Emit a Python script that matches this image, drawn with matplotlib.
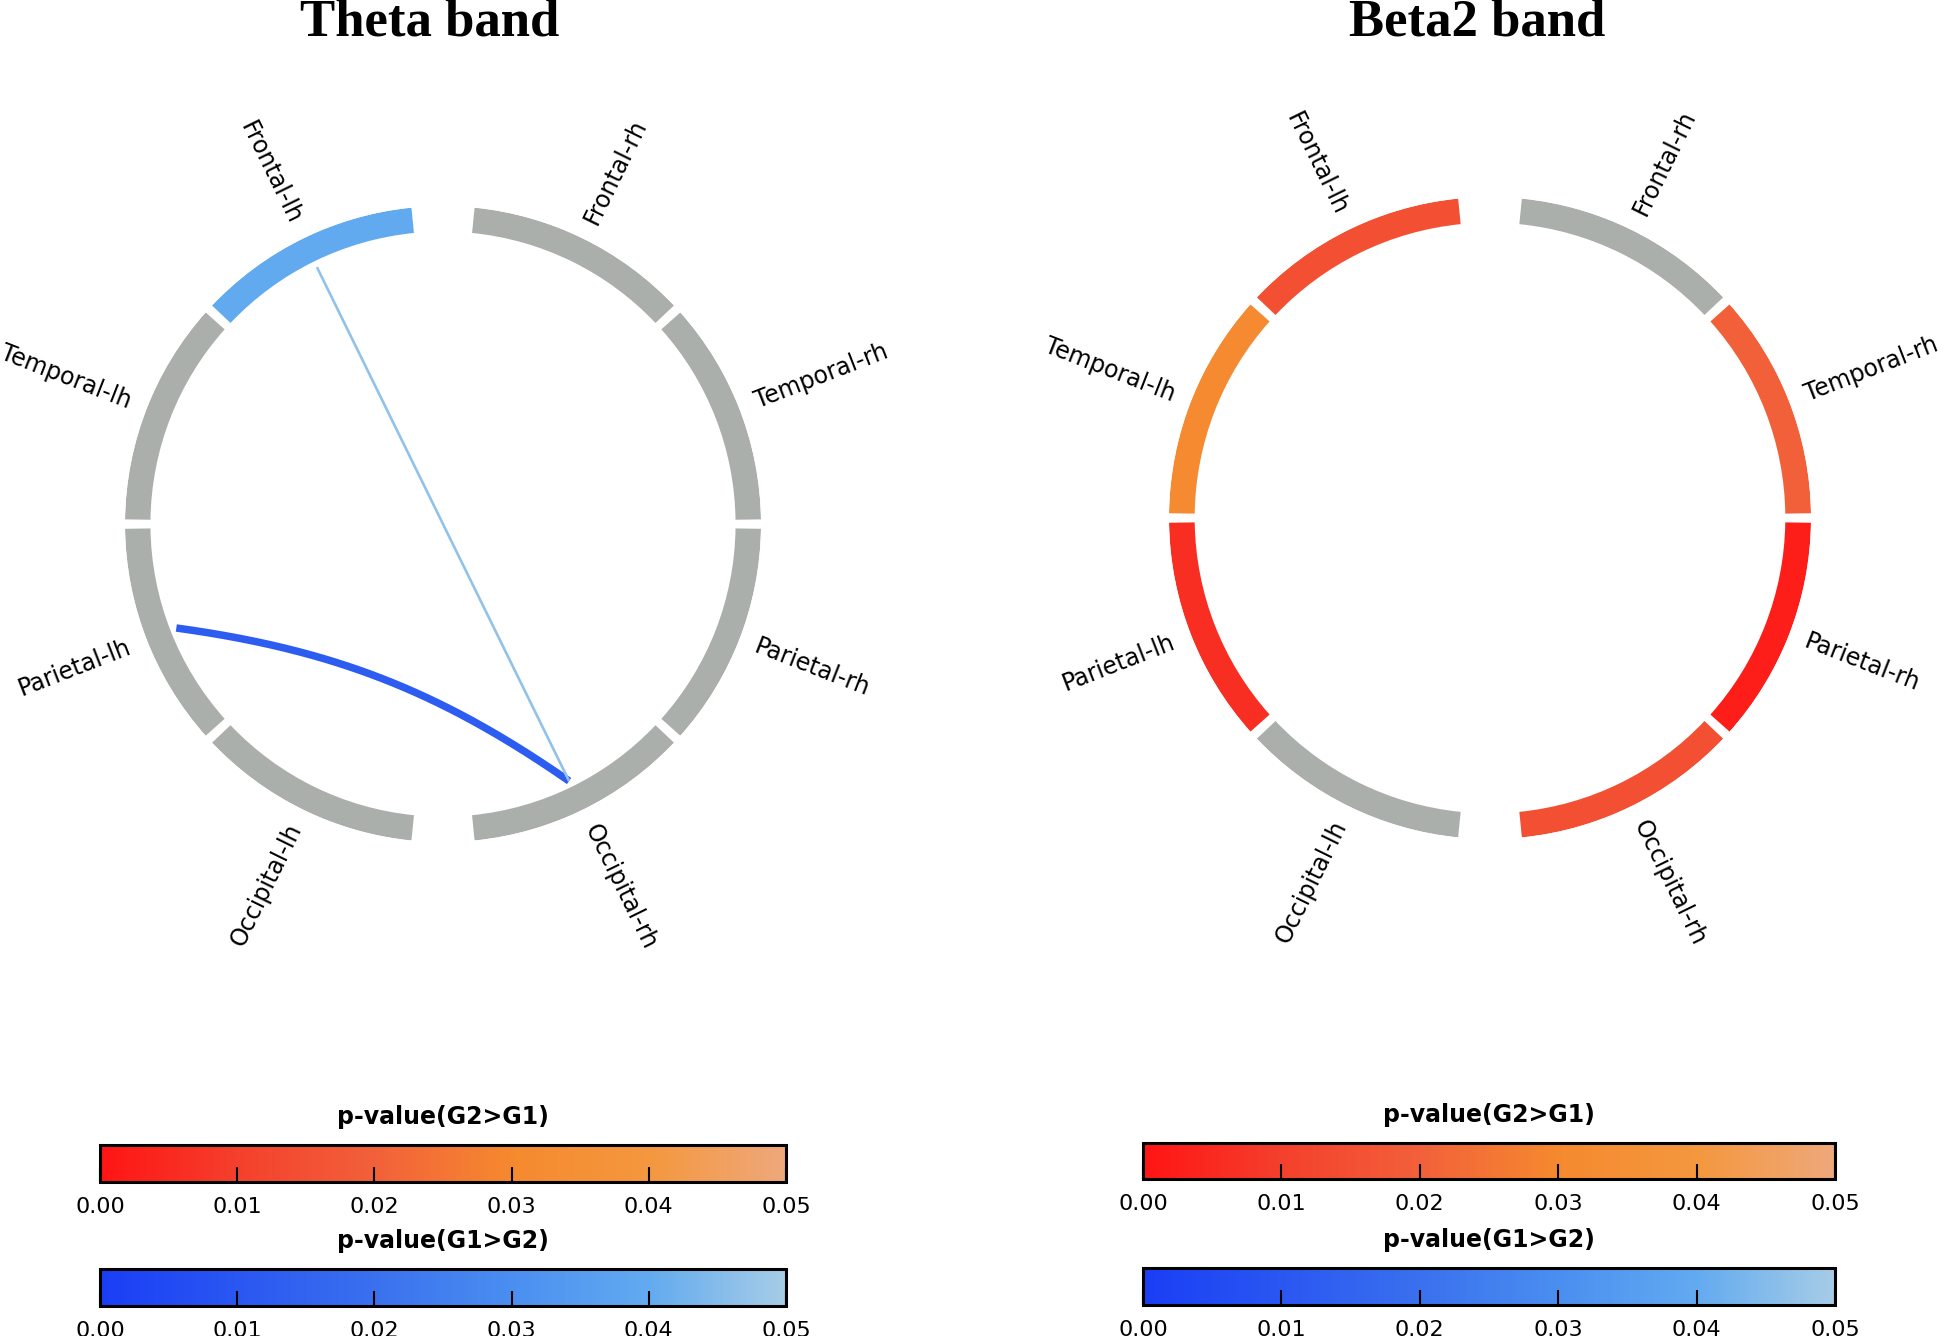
import numpy as np
import matplotlib
matplotlib.use('Agg')
import matplotlib.pyplot as plt
from matplotlib.colors import LinearSegmentedColormap, Normalize
from matplotlib.cm import ScalarMappable

# nodes, clockwise from the top-right
node_names = ['Frontal-rh', 'Temporal-rh', 'Parietal-rh', 'Occipital-rh',
              'Occipital-lh', 'Parietal-lh', 'Temporal-lh', 'Frontal-lh']

nan = np.nan
# node p-values (nan = not significant)
theta_red = [nan, nan, nan, nan, nan, nan, nan, nan]
theta_blue = [nan, nan, nan, nan, nan, nan, nan, 0.040]
beta2_red = [nan, 0.020, 0.002, 0.015, nan, 0.006, 0.031, 0.015]
beta2_blue = [nan, nan, nan, nan, nan, nan, nan, nan]

# connections (pairs of nodes) and their p-values
theta_edges = [('Parietal-lh', 'Occipital-rh'), ('Frontal-lh', 'Occipital-rh')]
theta_edge_blue = [0.012, 0.047]
beta2_edges = []
beta2_edge_blue = []

titles = ['Theta band', 'Beta2 band']
cbar_ticks = [0.00, 0.01, 0.02, 0.03, 0.04, 0.05]

red_cmap = LinearSegmentedColormap.from_list(
    'pred', [(0, '#ff1414'), (0.2, '#f4402c'), (0.4, '#f2603a'),
             (0.6, '#f5892e'), (0.8, '#f4973e'), (1.0, '#eea87a')])
blue_cmap = LinearSegmentedColormap.from_list(
    'pblue', [(0, '#1a3ef5'), (0.4, '#3a70ee'), (0.6, '#4a8ef0'),
              (0.8, '#62aaf0'), (1.0, '#a6cce6')])
norm = Normalize(0, 0.05)
grey = '#aaafac'

# node angles: big gap between hemispheres, small gaps between lobes
big_half_gap = 5.7
small_gap = 1.7
seg = (180 - 2 * big_half_gap - 3 * small_gap) / 4
right = [90 - big_half_gap - seg / 2 - k * (seg + small_gap) for k in range(4)]
left = [-180 - a for a in right[::-1]]
node_deg = np.array(right + left)
node_rad = np.deg2rad(node_deg)


def chord(t0, t1, r=9.0, pull=0.81, n=200):
    # cubic bezier between two ring points, bent toward the centre
    p0 = r * np.array([np.cos(t0), np.sin(t0)])
    p3 = r * np.array([np.cos(t1), np.sin(t1)])
    p1 = pull * (2 * p0 + p3) / 3
    p2 = pull * (p0 + 2 * p3) / 3
    t = np.linspace(0, 1, n)[:, None]
    pts = ((1 - t) ** 3 * p0 + 3 * (1 - t) ** 2 * t * p1
           + 3 * (1 - t) * t ** 2 * p2 + t ** 3 * p3)
    return np.arctan2(pts[:, 1], pts[:, 0]), np.hypot(pts[:, 0], pts[:, 1])


fig = plt.figure(figsize=(19.46, 13.36), dpi=100)

panels = [
    ([125 / 1946, 0.3697, 636 / 1946, 636 / 1336], theta_red, theta_blue, theta_edges, theta_edge_blue, 430),
    ([1169 / 1946, 0.3720, 642 / 1946, 642 / 1336], beta2_red, beta2_blue, beta2_edges, beta2_edge_blue, 1477),
]

for (rect, red_p, blue_p, edges, edge_p, tx), title in zip(panels, titles):
    ax = fig.add_axes(rect, projection='polar')
    ax.set_ylim(0, 10)
    ax.set_axis_off()

    # chords
    for (a, b), p in zip(edges, edge_p):
        th, rr = chord(node_rad[node_names.index(a)], node_rad[node_names.index(b)])
        lw = 1.6 + (0.05 - p) * 100
        ax.plot(th, rr, color=blue_cmap(norm(p)), linewidth=lw,
                solid_capstyle='butt')

    colors = []
    for r, b in zip(red_p, blue_p):
        if not np.isnan(r):
            colors.append(red_cmap(norm(r)))
        elif not np.isnan(b):
            colors.append(blue_cmap(norm(b)))
        else:
            colors.append(grey)
    ax.bar(node_rad, 0.8, width=np.deg2rad(seg), bottom=9.2,
           color=colors, linewidth=0)

    for name, th, deg in zip(node_names, node_rad, node_deg):
        d = deg % 360
        if 90 < d < 270:
            rot, ha = d + 180, 'right'
        else:
            rot, ha = d, 'left'
        ax.text(th, 10.55, name, rotation=rot, rotation_mode='anchor',
                ha=ha, va='center', fontsize=17, color='black')

    fig.text(tx / 1946, 1 - 35 / 1336, title, ha='center', va='baseline',
             fontsize=38, fontweight='bold', family='Liberation Serif')

cbar_rects = [
    ([100 / 1946, 1 - 1182 / 1336, 686 / 1946, 37 / 1336], red_cmap, 'p-value(G2>G1)'),
    ([100 / 1946, 1 - 1306 / 1336, 686 / 1946, 37 / 1336], blue_cmap, 'p-value(G1>G2)'),
    ([1143 / 1946, 1 - 1179 / 1336, 692 / 1946, 36 / 1336], red_cmap, 'p-value(G2>G1)'),
    ([1143 / 1946, 1 - 1305 / 1336, 692 / 1946, 37 / 1336], blue_cmap, 'p-value(G1>G2)'),
]
for rect, cmap, label in cbar_rects:
    cax = fig.add_axes(rect)
    cb = fig.colorbar(ScalarMappable(norm=norm, cmap=cmap), cax=cax,
                      orientation='horizontal')
    cb.set_ticks(cbar_ticks)
    cb.set_ticklabels(['%.2f' % t for t in cbar_ticks])
    cax.tick_params(direction='in', length=11, width=1.5, color='black',
                    labelsize=16, pad=11)
    cb.outline.set_linewidth(2.2)
    cax.set_title(label, fontsize=17, fontweight='bold', pad=15)

fig.savefig('out.png', dpi=100, facecolor='white')
